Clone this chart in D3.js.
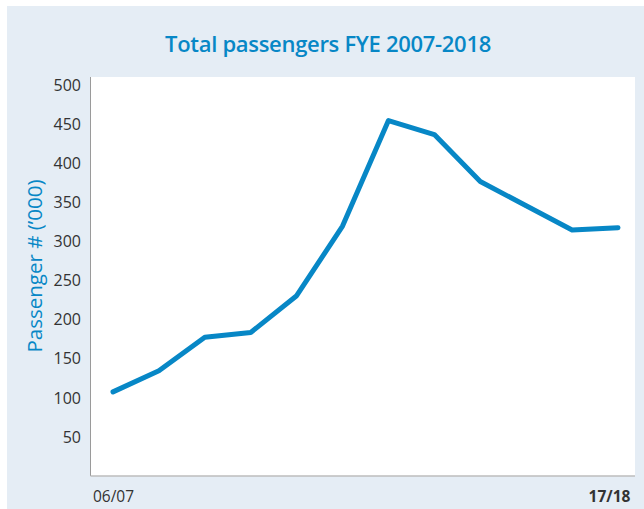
<!DOCTYPE html>
<html>
<head>
<meta charset="utf-8">
<script src="https://cdn.jsdelivr.net/npm/d3@7"></script>
<style>
  html, body { margin: 0; padding: 0; background: #ffffff; }
  svg { display: block; }
</style>
</head>
<body>
<svg id="chart" width="644" height="509"></svg>
<script>
// Financial years (FYE) and total passengers in thousands
const years = ["06/07", "07/08", "08/09", "09/10", "10/11", "11/12",
               "12/13", "13/14", "14/15", "15/16", "16/17", "17/18"];
const passengers = [105, 132, 175, 181, 228, 317, 452, 434, 374, 343, 312, 315];
const yTicks = [50, 100, 150, 200, 250, 300, 350, 400, 450, 500];
const xTickLabels = ["06/07", "17/18"];

const svg = d3.select("#chart");
const W = 644, H = 509;
const blue = "#0787c6";

// panel background
svg.append("rect").attr("x", 7).attr("y", 6).attr("width", W - 7).attr("height", H - 6)
  .attr("fill", "#e5edf5");

// plot area
const plot = { left: 90.5, right: 635, top: 77, bottom: 476 };
svg.append("rect")
  .attr("x", plot.left).attr("y", plot.top)
  .attr("width", plot.right - plot.left).attr("height", plot.bottom - plot.top)
  .attr("fill", "#ffffff");

const x = d3.scalePoint().domain(years).range([113, 618]);
const y = d3.scaleLinear().domain([0, 500]).range([474, 83]);

// axis lines (left and bottom)
svg.append("line").attr("x1", plot.left).attr("x2", plot.left)
  .attr("y1", plot.top).attr("y2", plot.bottom)
  .attr("stroke", "#9a9a9a").attr("stroke-width", 1);
svg.append("line").attr("x1", plot.left).attr("x2", plot.right)
  .attr("y1", plot.bottom).attr("y2", plot.bottom)
  .attr("stroke", "#bdbdbd").attr("stroke-width", 1.5);

// y axis labels
const yAxis = d3.axisLeft(y).tickValues(yTicks).tickSize(0).tickPadding(0);
const gy = svg.append("g").attr("transform", "translate(81,0)").call(yAxis);
gy.select(".domain").remove();
gy.selectAll("text")
  .attr("font-family", "'Open Sans', sans-serif")
  .attr("font-size", 16)
  .attr("fill", "#333333")
  .attr("dy", "0.45em");

// x axis labels: first and last year only
const xAxis = d3.axisBottom(x).tickValues(xTickLabels).tickSize(0).tickPadding(0);
const gx = svg.append("g").attr("transform", "translate(0,491)").call(xAxis);
gx.select(".domain").remove();
gx.selectAll("text")
  .attr("font-family", "'Open Sans', sans-serif")
  .attr("font-size", 15.5)
  .attr("fill", "#333333")
  .attr("font-weight", d => d === "17/18" ? 700 : 400)
  .attr("dx", d => d === "17/18" ? -9 : 0);

// passenger line
const line = d3.line().x((d, i) => x(years[i])).y(d => y(d));
svg.append("path")
  .datum(passengers)
  .attr("d", line)
  .attr("fill", "none")
  .attr("stroke", blue)
  .attr("stroke-width", 5)
  .attr("stroke-linejoin", "round")
  .attr("stroke-linecap", "round");

// title
svg.append("text")
  .attr("x", 328).attr("y", 52)
  .attr("text-anchor", "middle")
  .attr("font-family", "'Open Sans', sans-serif")
  .attr("font-size", 22)
  .attr("font-weight", 600)
  .attr("letter-spacing", -0.3)
  .attr("fill", blue)
  .text("Total passengers FYE 2007-2018");

// y axis title
svg.append("text")
  .attr("transform", "translate(42,266) rotate(-90)")
  .attr("text-anchor", "middle")
  .attr("font-family", "'Open Sans', sans-serif")
  .attr("font-size", 20.5)
  .attr("font-weight", 500)
  .attr("fill", blue)
  .text("Passenger # (’000)");
</script>
</body>
</html>
